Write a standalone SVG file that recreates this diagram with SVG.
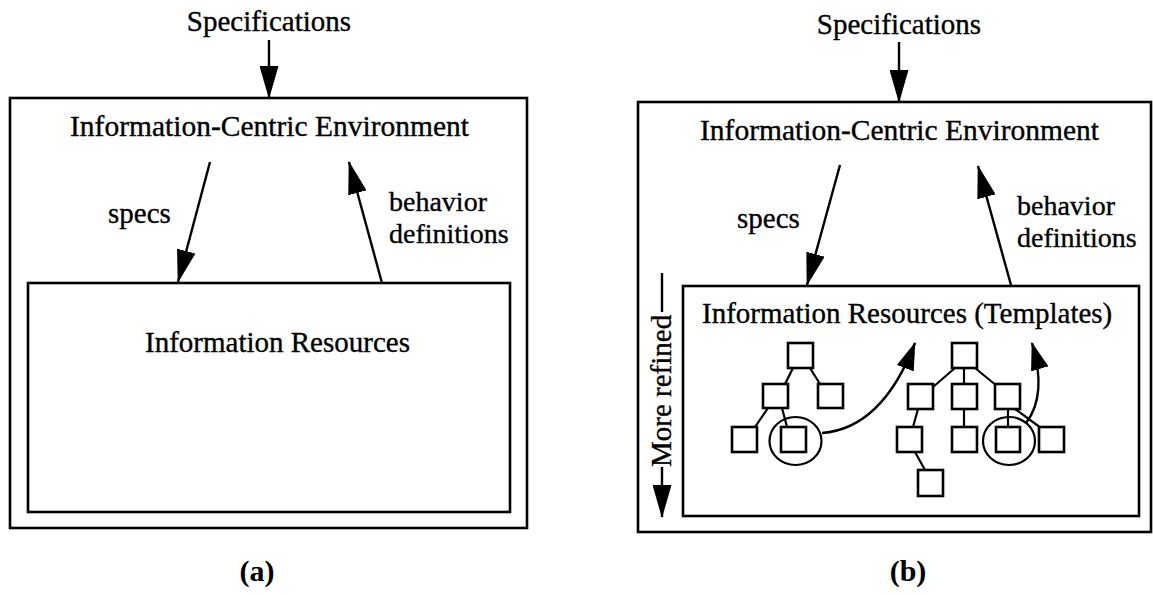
<svg xmlns="http://www.w3.org/2000/svg" width="1153" height="595" viewBox="0 0 1153 595">
<style>
.t{font-family:"Liberation Serif","Times New Roman",serif;font-size:29px;fill:#000;stroke:#000;stroke-width:0.35}
.e{font-size:29.5px}
.s{font-size:28px}
.lb{font-family:"Liberation Serif","Times New Roman",serif;font-size:30px;font-weight:bold;fill:#000}
.box{fill:none;stroke:#000;stroke-width:2.6}
.n{fill:#fff;stroke:#000;stroke-width:2.6}
.ln{fill:none;stroke:#000;stroke-width:2.4}
.tl{fill:none;stroke:#000;stroke-width:2.2}
.arr{fill:none;stroke:#000;stroke-width:2.4;marker-end:url(#ah)}
.arr2{fill:none;stroke:#000;stroke-width:2.4;marker-end:url(#ah2)}
</style>
<defs>
<marker id="ah" markerUnits="userSpaceOnUse" viewBox="0 0 33 19" markerWidth="33" markerHeight="19" refX="32" refY="9.5" orient="auto"><path d="M0,0 L33,9.5 L0,19 z" fill="#000"/></marker>
<marker id="ah2" markerUnits="userSpaceOnUse" viewBox="0 0 28 18" markerWidth="28" markerHeight="18" refX="27" refY="9" orient="auto"><path d="M0,0 L28,9 L0,18 z" fill="#000"/></marker>
</defs>

<g id="panel-a">
<g id="a-spec-label"><text class="t" x="269" y="31" text-anchor="middle">Specifications</text></g>
<g id="a-env">
<rect class="box" x="10" y="98" width="517" height="430"/>
<text class="t e" x="70" y="136">Information-Centric Environment</text>
</g>
<g id="a-res">
<rect class="box" x="28" y="283" width="482" height="229"/>
<text class="t" x="145" y="352">Information Resources</text>
</g>
<g id="a-labels">
<text class="t" x="108" y="223">specs</text>
<text class="t s" x="389" y="211">behavior</text>
<text class="t s" x="389" y="243">definitions</text>
</g>
<g id="a-connectors">
<line class="arr" x1="269" y1="40" x2="269" y2="98"/>
<line class="arr" x1="210" y1="162" x2="178" y2="282"/>
<line class="arr" x1="382" y1="283" x2="349" y2="162"/>
</g>
<text class="lb" x="257" y="581" text-anchor="middle">(a)</text>
</g>

<g id="panel-b">
<g id="b-spec-label"><text class="t" x="899" y="34" text-anchor="middle">Specifications</text></g>
<g id="b-env">
<rect class="box" x="638" y="102" width="513" height="430"/>
<text class="t e" x="700" y="140">Information-Centric Environment</text>
</g>
<g id="b-res">
<rect class="box" x="683" y="286" width="456" height="230"/>
<text class="t" x="702" y="323">Information Resources (Templates)</text>
</g>
<g id="b-labels">
<text class="t" x="737" y="228">specs</text>
<text class="t s" x="1017" y="215">behavior</text>
<text class="t s" x="1017" y="247">definitions</text>
</g>
<g id="b-refined">
<line class="ln" x1="662" y1="273" x2="662" y2="312"/>
<text class="t" transform="translate(671,467) rotate(-90)">More refined</text>
<line class="arr" x1="662" y1="467" x2="662" y2="517"/>
</g>
<g id="tree-links">
<line class="tl" x1="793" y1="368" x2="785" y2="384"/>
<line class="tl" x1="810" y1="368" x2="820" y2="384"/>
<line class="tl" x1="768" y1="408" x2="755" y2="427"/>
<line class="tl" x1="782" y1="408" x2="787" y2="427"/>
<line class="tl" x1="955" y1="368" x2="933" y2="387"/>
<line class="tl" x1="964" y1="368" x2="964" y2="384"/>
<line class="tl" x1="975" y1="368" x2="997" y2="386"/>
<line class="tl" x1="918" y1="409" x2="913" y2="427"/>
<line class="tl" x1="964" y1="409" x2="964" y2="427"/>
<line class="tl" x1="1008" y1="409" x2="1008" y2="427"/>
<line class="tl" x1="1015" y1="409" x2="1041" y2="428"/>
<line class="tl" x1="915" y1="452" x2="925" y2="470"/>
</g>
<g id="tree-left">
<rect class="n" x="788" y="343" width="25" height="25"/>
<rect class="n" x="763" y="384" width="25" height="24"/>
<rect class="n" x="818" y="384" width="25" height="24"/>
<rect class="n" x="732" y="427" width="25" height="25"/>
<rect class="n" x="781" y="427" width="25" height="25"/>
<ellipse class="tl" cx="795.5" cy="441" rx="26" ry="24"/>
</g>
<g id="tree-right">
<rect class="n" x="952" y="343" width="25" height="25"/>
<rect class="n" x="908" y="384" width="25" height="25"/>
<rect class="n" x="952" y="384" width="25" height="25"/>
<rect class="n" x="995" y="384" width="25" height="25"/>
<rect class="n" x="897" y="427" width="25" height="25"/>
<rect class="n" x="952" y="427" width="25" height="25"/>
<rect class="n" x="996" y="427" width="24" height="25"/>
<rect class="n" x="1039" y="427" width="25" height="25"/>
<rect class="n" x="918" y="470" width="25" height="26"/>
<ellipse class="tl" cx="1009" cy="441" rx="26" ry="24"/>
</g>
<g id="b-connectors">
<line class="arr" x1="899" y1="42" x2="899" y2="102"/>
<line class="arr" x1="840" y1="165" x2="807" y2="285"/>
<line class="arr" x1="1011" y1="285" x2="978" y2="166"/>
<path class="arr2" d="M822,433 C862,430 893,400 915,343"/>
<path class="arr2" d="M1026,423 C1040,405 1043,380 1032,343"/>
</g>
<text class="lb" x="908" y="581" text-anchor="middle">(b)</text>
</g>
</svg>
